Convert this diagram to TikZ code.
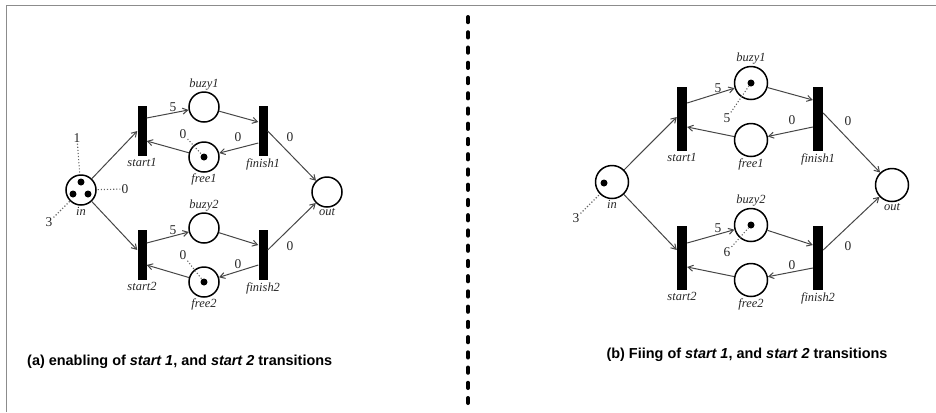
\documentclass[tikz,border=0pt]{standalone}
\usepackage{fontspec}
\setmainfont{Liberation Serif}
\setsansfont{Liberation Sans}
\usepackage{tikz}
\usetikzlibrary{arrows.meta, positioning, calc}
\definecolor{framegray}{RGB}{140, 140, 140}
\definecolor{arcgray}{RGB}{70, 70, 70}
\definecolor{notegray}{RGB}{100, 100, 100}

\begin{document}
\begin{tikzpicture}[x=1bp, y=-1bp,
  place/.style={circle, draw, line width=1.5bp, minimum size=30bp, inner sep=0pt},
  bigplace/.style={place, minimum size=33bp},
  trans/.style={fill=black, inner sep=0pt, minimum width=9bp, minimum height=50bp},
  bigtrans/.style={trans, minimum width=10bp, minimum height=64bp},
  lbl/.style={font=\fontsize{12.5}{14}\selectfont\itshape, inner sep=1pt, text=black!85},
  wt/.style={font=\fontsize{13.5}{15}\selectfont, inner sep=1pt, text=black!85},
  arc/.style={draw=arcgray, line width=1bp, -{Straight Barb[length=5bp, width=6bp]}},
  note/.style={draw=notegray, line width=1.1bp, dotted},
  tok/.style={circle, fill=black, inner sep=0pt, minimum size=7bp},
  caption/.style={font=\fontsize{14.5}{17}\selectfont\sffamily\bfseries, inner sep=0pt}
]
  \useasboundingbox (0,0) rectangle (936,412);

  % Frame and divider
  \draw[framegray, line width=1.2bp] (6.5,412) -- (6.5,5.5) -- (936,5.5);
  \draw[line width=4bp, line cap=round, dash pattern=on 5.24bp off 10bp] (468,17) -- (468,403);

  % (a) places and transitions
  \node[place] (a-in) at (81,190) {};
  \node[trans] (a-s1) at (142,131) {};
  \node[place] (a-b1) at (204,107) {};
  \node[place] (a-f1) at (204,157) {};
  \node[trans] (a-e1) at (263,131) {};
  \node[trans] (a-s2) at (142,255) {};
  \node[place] (a-b2) at (204,228) {};
  \node[place] (a-f2) at (204,282) {};
  \node[trans] (a-e2) at (263,255) {};
  \node[place] (a-out) at (327,192) {};

  \node[lbl, below=0bp of a-in] {in};
  \node[lbl, below=1bp of a-s1] {start1};
  \node[lbl, above=0bp of a-b1] {buzy1};
  \node[lbl, below=0bp of a-f1] {free1};
  \node[lbl, below=1bp of a-e1] {finish1};
  \node[lbl, below=1bp of a-s2] {start2};
  \node[lbl, above=0bp of a-b2] {buzy2};
  \node[lbl, below=0bp of a-f2] {free2};
  \node[lbl, below=1bp of a-e2] {finish2};
  \node[lbl, below=0bp of a-out] {out};

  % (a) marking
  \node[tok] (a-in-t1) at (81,182) {};
  \node[tok] (a-in-t2) at (73,194) {};
  \node[tok] (a-in-t3) at (88,194) {};
  \node[tok] (a-f1-t) at (a-f1) {};
  \node[tok] (a-f2-t) at (a-f2) {};

  % (a) arcs
  \draw[arc] (a-in) -- (a-s1.west);
  \draw[arc] ($(a-s1.east)+(0,-13)$) -- (a-b1);
  \draw[arc] (a-b1) -- ($(a-e1.west)+(0,-9)$);
  \draw[arc] ($(a-e1.west)+(0,12)$) -- (a-f1);
  \draw[arc] (a-f1) -- ($(a-s1.east)+(0,10)$);
  \draw[arc] (a-e1.east) -- (a-out);
  \draw[arc] (a-in) -- ($(a-s2.west)+(0,-5)$);
  \draw[arc] ($(a-s2.east)+(0,-12)$) -- (a-b2);
  \draw[arc] (a-b2) -- ($(a-e2.west)+(0,-10)$);
  \draw[arc] ($(a-e2.west)+(0,10)$) -- (a-f2);
  \draw[arc] (a-f2) -- ($(a-s2.east)+(0,10)$);
  \draw[arc] ($(a-e2.east)+(0,-5)$) -- (a-out);

  % (a) weights and clocks
  \node[wt] at (173,107) {5};
  \node[wt] at (238,137) {0};
  \node[wt] at (290,137) {0};
  \node[wt] at (173,230) {5};
  \node[wt] at (238,264) {0};
  \node[wt] at (290,246) {0};
  \node[wt] (a-n1) at (77,138) {1};
  \node[wt] (a-n0) at (125,189) {0};
  \node[wt] (a-n3) at (49,222) {3};
  \node[wt] (a-nf1) at (183,134) {0};
  \node[wt] (a-nf2) at (183,255) {0};
  \draw[note] (a-n1) -- (a-in);
  \draw[note] (a-n0) -- (a-in);
  \draw[note] (a-n3) -- (a-in);
  \draw[note] (a-nf1) -- (a-f1-t);
  \draw[note] (a-nf2) -- (a-f2-t);

  \node[caption, anchor=west] (a-cap) at (27,362) {(a) enabling of \textit{start 1}, and \textit{start 2} transitions};

  % (b) places and transitions
  \node[bigplace] (b-in) at (612,182) {};
  \node[bigtrans] (b-s1) at (682,119) {};
  \node[bigplace] (b-b1) at (751,83) {};
  \node[bigplace] (b-f1) at (751,140) {};
  \node[bigtrans] (b-e1) at (818,119) {};
  \node[bigtrans] (b-s2) at (682,258) {};
  \node[bigplace] (b-b2) at (751,225) {};
  \node[bigplace] (b-f2) at (751,280) {};
  \node[bigtrans] (b-e2) at (818,258) {};
  \node[bigplace] (b-out) at (892,185) {};

  \node[lbl, below=0bp of b-in] {in};
  \node[lbl, below=1bp of b-s1] {start1};
  \node[lbl, above=0bp of b-b1] {buzy1};
  \node[lbl, below=0bp of b-f1] {free1};
  \node[lbl, below=1bp of b-e1] {finish1};
  \node[lbl, below=1bp of b-s2] {start2};
  \node[lbl, above=0bp of b-b2] {buzy2};
  \node[lbl, below=0bp of b-f2] {free2};
  \node[lbl, below=1bp of b-e2] {finish2};
  \node[lbl, below=0bp of b-out] {out};

  % (b) marking
  \node[tok] (b-in-t) at (604,183) {};
  \node[tok] (b-b1-t) at (b-b1) {};
  \node[tok] (b-b2-t) at (b-b2) {};

  % (b) arcs
  \draw[arc] (b-in) -- ($(b-s1.west)+(0,-2)$);
  \draw[arc] ($(b-s1.east)+(0,-16)$) -- (b-b1);
  \draw[arc] (b-b1) -- ($(b-e1.west)+(0,-19)$);
  \draw[arc] ($(b-e1.west)+(0,8)$) -- (b-f1);
  \draw[arc] (b-f1) -- ($(b-s1.east)+(0,8)$);
  \draw[arc] ($(b-e1.east)+(0,-6)$) -- (b-out);
  \draw[arc] (b-in) -- ($(b-s2.west)+(0,-8)$);
  \draw[arc] ($(b-s2.east)+(0,-15)$) -- (b-b2);
  \draw[arc] (b-b2) -- ($(b-e2.west)+(0,-13)$);
  \draw[arc] ($(b-e2.west)+(0,10)$) -- (b-f2);
  \draw[arc] (b-f2) -- ($(b-s2.east)+(0,9)$);
  \draw[arc] ($(b-e2.east)+(0,-8)$) -- (b-out);

  % (b) weights and clocks
  \node[wt] at (718,88) {5};
  \node[wt] at (792,120) {0};
  \node[wt] at (848,121) {0};
  \node[wt] at (718,228) {5};
  \node[wt] at (792,265) {0};
  \node[wt] at (848,246) {0};
  \node[wt] (b-n3) at (576,218) {3};
  \node[wt] (b-nb1) at (727,118) {5};
  \node[wt] (b-nb2) at (727,252) {6};
  \draw[note] (b-n3) -- (b-in);
  \draw[note] (b-nb1) -- (b-b1-t);
  \draw[note] (b-nb2) -- (b-b2-t);

  \node[caption] (b-cap) at (747,355) {(b) Fiing of \textit{start 1}, and \textit{start 2} transitions};
\end{tikzpicture}
\end{document}
